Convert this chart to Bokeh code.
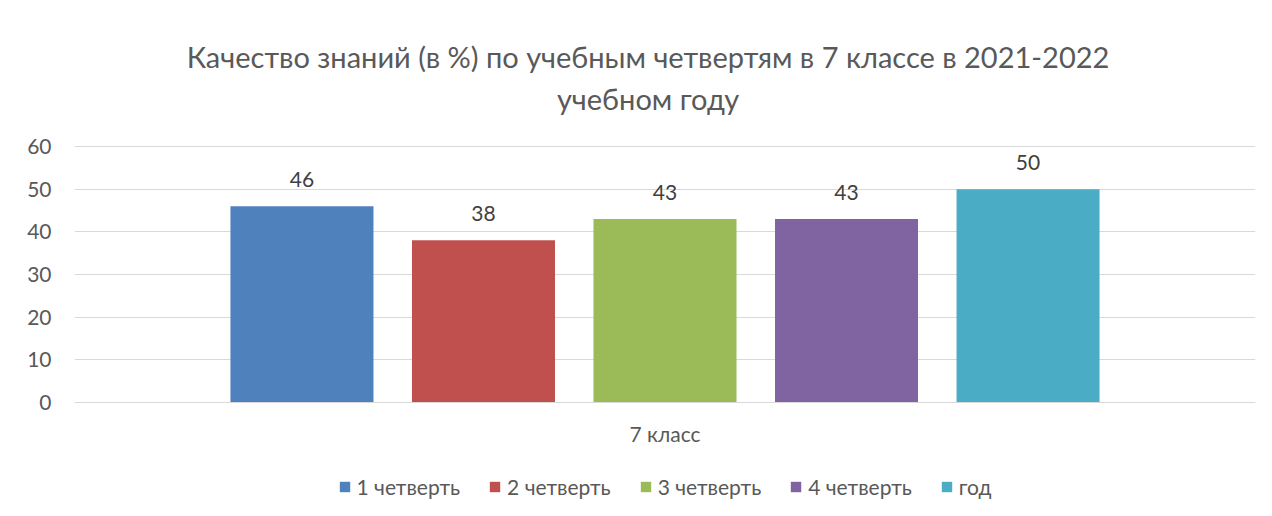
from bokeh.plotting import figure
from bokeh.models import (FactorRange, Range1d, ColumnDataSource, Legend, LegendItem,
                          Label, LabelSet, FixedTicker)
from bokeh.transform import dodge
from bokeh.embed import file_html
from bokeh.resources import INLINE
from bokeh.core.properties import value

category = ["7 класс"]
series_names = ["1 четверть", "2 четверть", "3 четверть", "4 четверть", "год"]
series_values = [46, 38, 43, 43, 50]
colors = ["#4F81BD", "#C0504D", "#9BBB59", "#8064A2", "#4BACC6"]
title_lines = ["Качество знаний (в %) по учебным четвертям в 7 классе в 2021-2022",
               "учебном году"]
y_ticks = [0, 10, 20, 30, 40, 50, 60]

FONT = "Lato"
TXT = "#595959"
GRID = "#D9D9D9"

# layout (pixels)
PX_PER_UNIT = 256 / 60.0          # 60 units over 256 px
TOP_PAD = 126                     # room above the 60 gridline for the title
BOTTOM_PAD = 114                  # room below the 0 line for axis labels and legend
Y_MAX = y_ticks[-1]
y_end = Y_MAX + TOP_PAD / PX_PER_UNIT
y_start = -BOTTOM_PAD / PX_PER_UNIT

p = figure(frame_width=1181, frame_height=256 + TOP_PAD + BOTTOM_PAD,
           x_range=FactorRange(*category, range_padding=0),
           y_range=Range1d(y_start, y_end),
           output_backend="svg", toolbar_location=None,
           min_border_left=74, min_border_right=17,
           min_border_top=20, min_border_bottom=0,
           outline_line_color=None, border_fill_color="white",
           background_fill_color="white")

step = 0.1537
bar_w = 0.1211
items = []
for i, (name, val, col) in enumerate(zip(series_names, series_values, colors)):
    src = ColumnDataSource(dict(x=category, top=[val], label=[str(val)]))
    off = (i - 2) * step
    r = p.vbar(x=dodge("x", off, range=p.x_range), top="top", bottom=0, width=bar_w,
               source=src, fill_color=col, line_color=None)
    lbl = LabelSet(x=dodge("x", off, range=p.x_range), y="top", text="label",
                   source=src, text_align="center", text_baseline="middle",
                   y_offset=27, text_font=value(FONT), text_font_size="21px",
                   text_color="#404040")
    p.add_layout(lbl)
    items.append(LegendItem(label=name, renderers=[r]))

# title lines, placed above the 60 gridline (pixel distances above it)
title_gaps_px = [90, 48]
for line, gap in zip(title_lines, title_gaps_px):
    p.add_layout(Label(x=0.5, y=Y_MAX + gap / PX_PER_UNIT, x_offset=-17,
                       text=line, text_align="center", text_baseline="middle",
                       text_font=FONT, text_font_size="29px", text_color=TXT))

p.xgrid.grid_line_color = None
p.ygrid.grid_line_color = GRID
p.ygrid.grid_line_width = 1

p.yaxis.ticker = FixedTicker(ticks=y_ticks)
p.yaxis.axis_line_color = None
p.yaxis.major_tick_line_color = None
p.yaxis.minor_tick_line_color = None
p.yaxis.major_label_standoff = 17
p.yaxis.major_label_text_font = FONT
p.yaxis.major_label_text_font_size = "21px"
p.yaxis.major_label_text_color = TXT

p.xaxis.fixed_location = 0
p.xaxis.axis_line_color = GRID
p.xaxis.major_tick_line_color = None
p.xaxis.minor_tick_line_color = None
p.xaxis.major_label_standoff = 12
p.xaxis.major_label_text_font = FONT
p.xaxis.major_label_text_font_size = "21px"
p.xaxis.major_label_text_color = TXT

legend = Legend(items=items, orientation="horizontal", location="bottom_center",
                border_line_color=None, background_fill_alpha=0,
                label_text_font=FONT, label_text_font_size="21px",
                label_text_color=TXT, glyph_width=13, glyph_height=13,
                spacing=28, label_standoff=6, padding=0, margin=17)
p.add_layout(legend, "center")

open("out.html", "w").write(file_html(p, INLINE))
